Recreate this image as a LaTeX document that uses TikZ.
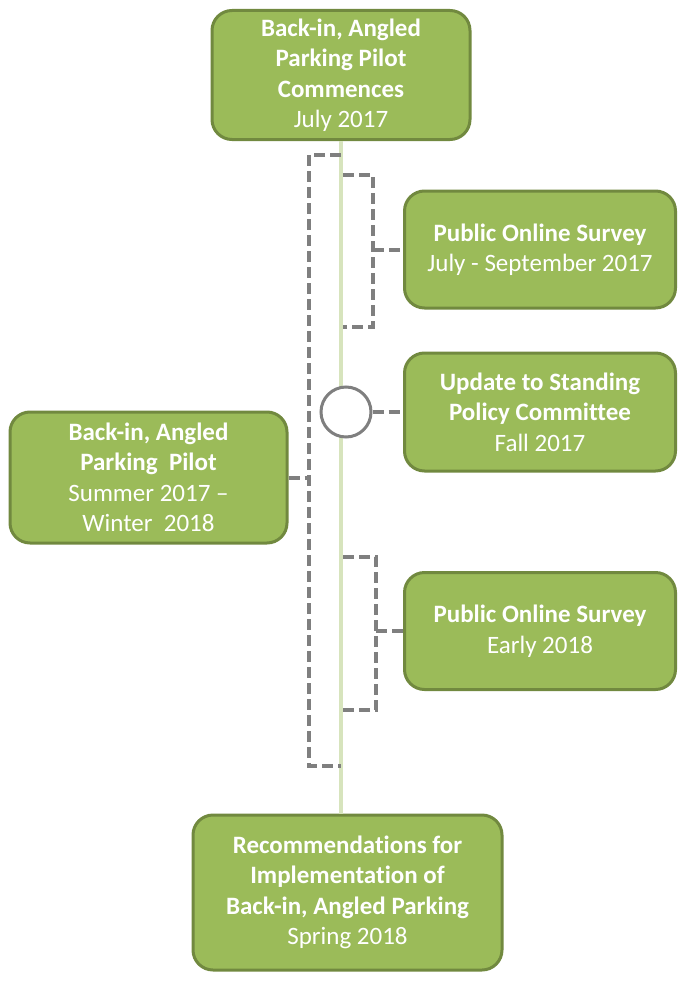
\documentclass[tikz,border=0pt]{standalone}
\usepackage{fontspec}
\setmainfont[Ligatures=NoCommon]{Carlito}
\definecolor{boxgreen}{HTML}{9BBB59}
\definecolor{boxedge}{HTML}{71893F}
\definecolor{linegreen}{HTML}{D7E4BD}
\definecolor{phasegrey}{HTML}{7F7F7F}
\begin{document}
\begin{tikzpicture}[x=1pt, y=-1pt,
  event/.style={draw=boxedge, fill=boxgreen, line width=3pt, rounded corners=20pt,
    text=white, align=center, inner sep=0pt, font=\fontsize{25}{30.5}\selectfont},
  timeline/.style={draw=linegreen, line width=4pt},
  phase/.style={draw=phasegrey, line width=4pt, dash pattern=on 11pt off 5pt},
  milestone/.style={draw=phasegrey, fill=white, circle, line width=3pt,
    minimum size=50pt, inner sep=0pt}]
    \useasboundingbox (0,0) rectangle (690,982);

    % Start and end of the pilot
    \node[event, minimum width=258pt, minimum height=129pt] (start) at (341,75)
      {\textbf{Back-in, Angled}\\\textbf{Parking Pilot}\\\textbf{Commences}\\July 2017};
    \node[event, minimum width=309pt, minimum height=155pt] (finish) at (347.5,892.5)
      {\textbf{Recommendations for}\\\textbf{Implementation of}\\\textbf{Back-in, Angled Parking}\\Spring 2018};

    % Events on the right
    \foreach \n/\y/\d in {survey/249.5/July - September 2017, early/631/Early 2018} {
      \node[event, minimum width=271pt, minimum height=117pt] (\n) at (540,\y)
        {\textbf{Public Online Survey}\\\d};
    }
    \node[event, minimum width=271pt, minimum height=118pt] (committee) at (540,412)
      {\textbf{Update to Standing}\\\textbf{Policy Committee}\\Fall 2017};

    % Pilot period on the left
    \node[event, minimum width=277pt, minimum height=131pt] (pilot) at (148.5,477.5)
      {\textbf{Back-in, Angled}\\\textbf{Parking~ Pilot}\\Summer 2017 --\\Winter~ 2018};

    % Timeline
    \draw[timeline] (start.south) -- (start.south |- finish.north);

    % Brackets
    \draw[phase] (341,155) -| (309,477.5) coordinate (pilotbar) |- (341,766);
    \draw[phase] (pilot.east) -- (pilotbar);
    \foreach \n/\t/\b/\x/\m in {survey/175/327/373/249.5, early/557/710/376/631} {
      \draw[phase] (343,\t) -| (\x,\m) coordinate (\n bar) |- (343,\b);
      \draw[phase] (\n bar) -- (\n.west);
    }

    % Milestone
    \node[milestone] (update) at (346,412) {};
    \draw[phase] (update.east) -- (committee.west);
\end{tikzpicture}
\end{document}
